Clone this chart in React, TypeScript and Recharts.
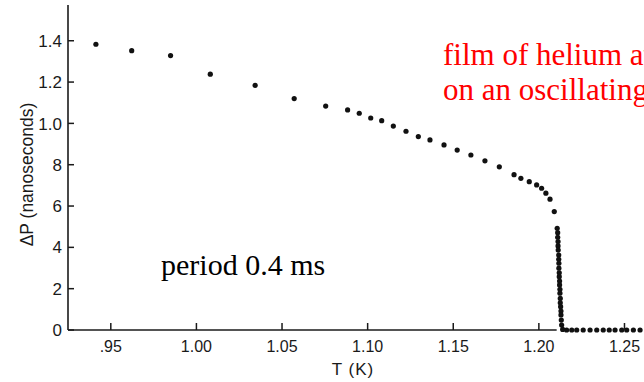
import React from 'react';
import { ScatterChart, Scatter, XAxis, YAxis, ReferenceLine, Customized } from 'recharts';

// superfluid branch
const curveT = [0.9413, 0.9622, 0.9849, 1.0081, 1.0343, 1.0571, 1.0755, 1.0883, 1.0951, 1.1018, 1.1082, 1.115, 1.1224, 1.1296, 1.1364, 1.1446, 1.1523, 1.1603, 1.1685, 1.1769, 1.1855, 1.1895, 1.1944, 1.1987, 1.2016, 1.2041, 1.2065, 1.209];
const curveP = [1.383, 1.352, 1.328, 1.238, 1.184, 1.12, 1.084, 1.065, 1.049, 1.026, 1.013, 0.987, 0.962, 0.936, 0.92, 0.896, 0.871, 0.847, 0.819, 0.79, 0.752, 0.734, 0.718, 0.702, 0.686, 0.662, 0.633, 0.573];

// the steep drop at the transition
const dropT = [1.2107, 1.211, 1.211, 1.2112, 1.2112, 1.2113, 1.2116, 1.2116, 1.2117, 1.2117, 1.2119, 1.2119, 1.2121, 1.2121, 1.2123, 1.2123, 1.2125, 1.2125, 1.2127, 1.2129, 1.2129, 1.2131, 1.2133, 1.2139];
const dropP = [0.492, 0.471, 0.449, 0.428, 0.407, 0.387, 0.363, 0.342, 0.323, 0.299, 0.277, 0.258, 0.237, 0.218, 0.197, 0.178, 0.153, 0.132, 0.113, 0.092, 0.073, 0.048, 0.024, 0.003];

// normal fluid, flat at zero
const flatT = [1.2162, 1.2192, 1.2221, 1.2259, 1.2299, 1.2338, 1.2376, 1.2411, 1.2445, 1.2484, 1.2513, 1.2552, 1.2591];
const flatP = [0, 0, 0, 0, 0, 0, 0, 0, 0, 0, 0, 0, 0];

const xTicks = [0.95, 1.0, 1.05, 1.1, 1.15, 1.2, 1.25];
const xTickLabels = ['.95', '1.00', '1.05', '1.10', '1.15', '1.20', '1.25'];
const yTicks = [0, 0.2, 0.4, 0.6, 0.8, 1.0, 1.2, 1.4];
const yTickLabels = ['0', '2', '4', '6', '8', '1.0', '1.2', '1.4'];

const xDomain: [number, number] = [0.925, 1.2614];
const yDomain: [number, number] = [0, 1.573];
const axisEndT = 1.2104;

const toPoints = (ts: number[], ps: number[]) => ts.map((t, i) => ({ t, p: ps[i] }));
const data = [...toPoints(curveT, curveP), ...toPoints(dropT, dropP), ...toPoints(flatT, flatP)];

const INK = '#1a1a1a';
const SANS = '"Liberation Sans", Arial, sans-serif';
const SERIF = '"Liberation Serif", "Times New Roman", serif';

const XTick = ({ x, y, payload }: any) => {
  const idx = xTicks.indexOf(payload.value);
  return (
    <g>
      <line x1={x} x2={x} y1={y} y2={y - 7} stroke={INK} strokeWidth={1.5} />
      <text x={x} y={y + 22} textAnchor="middle" fill={INK} fontSize={16} fontFamily={SANS}>
        {xTickLabels[idx]}
      </text>
    </g>
  );
};

const YTick = ({ x, y, payload }: any) => {
  const idx = yTicks.indexOf(payload.value);
  return (
    <g>
      <line x1={x} x2={x + 6} y1={y} y2={y} stroke={INK} strokeWidth={1.5} />
      <text x={x - 6} y={y} dy="0.36em" textAnchor="end" fill={INK} fontSize={17} fontFamily={SANS}>
        {yTickLabels[idx]}
      </text>
    </g>
  );
};

const Notes = () => (
  <g>
    <text x={27} y={174.5} transform="rotate(-90 27 174.5)" dy="0.36em" textAnchor="middle" fill={INK} fontSize={17.5} fontFamily={SANS}>
      ΔP (nanoseconds)
    </text>
    <text x={353} y={375} textAnchor="middle" fill={INK} fontSize={17} letterSpacing={1} fontFamily={SANS}>
      T (K)
    </text>
    <text x={161} y={275} fill="#000" fontSize={30} fontFamily={SERIF}>
      period 0.4 ms
    </text>
    <text x={443} y={65} fill="#ff0000" fontSize={31} fontFamily={SERIF}>
      film of helium at
    </text>
    <text x={443} y={100} fill="#ff0000" fontSize={31} fontFamily={SERIF}>
      on an oscillating
    </text>
  </g>
);

const App = () => (
  <div style={{ position: 'absolute', left: 0, top: 0, background: '#fff' }}>
    <ScatterChart width={644} height={382} margin={{ top: 5, right: 0, bottom: 0, left: 0 }}>
      <XAxis
        type="number"
        dataKey="t"
        domain={xDomain}
        ticks={xTicks}
        height={52}
        axisLine={false}
        tickLine={false}
        tickSize={0}
        tickMargin={0}
        tick={<XTick />}
        interval={0}
      />
      <YAxis
        type="number"
        dataKey="p"
        domain={yDomain}
        ticks={yTicks}
        width={68}
        axisLine={{ stroke: INK, strokeWidth: 1.6 }}
        tickLine={false}
        tickSize={0}
        tickMargin={0}
        tick={<YTick />}
        interval={0}
      />
      <ReferenceLine
        segment={[{ x: xDomain[0], y: 0 }, { x: axisEndT, y: 0 }]}
        stroke={INK}
        strokeWidth={1.6}
      />
      <Scatter
        data={data}
        fill="#111"
        isAnimationActive={false}
        shape={(props: any) => <circle cx={props.cx} cy={props.cy} r={2.6} fill="#111" />}
      />
      <Customized component={Notes} />
    </ScatterChart>
  </div>
);

export default App;
